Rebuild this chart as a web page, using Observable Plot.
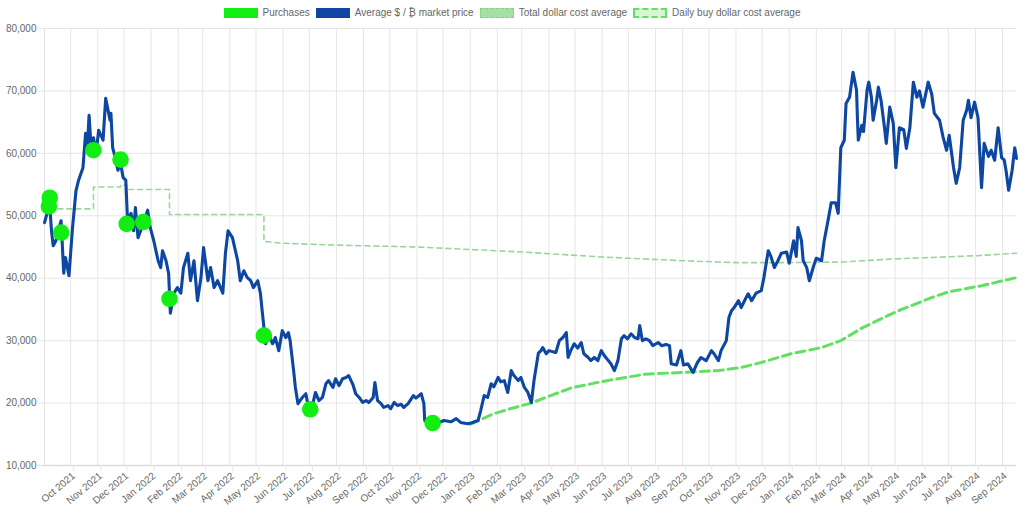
<!DOCTYPE html>
<html><head><meta charset="utf-8">
<script src="https://cdn.jsdelivr.net/npm/d3@7"></script>
<script src="https://cdn.jsdelivr.net/npm/@observablehq/plot@0.6"></script>
<style>
body{margin:0;background:#fff;font-family:"Liberation Sans",Arial,Helvetica,sans-serif;}
#legend{height:18px;display:flex;justify-content:center;align-items:flex-end;font-size:10px;color:#666;}
.item{display:flex;align-items:center;height:10px;line-height:10px;margin:0 3px;}
.box{width:34px;height:10px;margin-right:5px;box-sizing:border-box;}
</style></head><body>
<div id="legend"></div>
<div id="chart"></div>
<script>
// ---- Average $ / ₿ market price (blue line) ----
const priceDates = ["2021-09-01","2021-09-05","2021-09-07","2021-09-09","2021-09-11","2021-09-14","2021-09-16","2021-09-20","2021-09-23","2021-09-25","2021-09-29","2021-10-03","2021-10-07","2021-10-10","2021-10-15","2021-10-18","2021-10-20","2021-10-22","2021-10-24","2021-10-27","2021-10-30","2021-11-02","2021-11-07","2021-11-10","2021-11-12","2021-11-15","2021-11-16","2021-11-18","2021-11-21","2021-11-24","2021-11-27","2021-11-30","2021-12-03","2021-12-05","2021-12-09","2021-12-12","2021-12-14","2021-12-17","2021-12-20","2021-12-24","2021-12-28","2021-12-31","2022-01-04","2022-01-09","2022-01-12","2022-01-14","2022-01-18","2022-01-21","2022-01-23","2022-01-27","2022-01-31","2022-02-04","2022-02-07","2022-02-12","2022-02-15","2022-02-19","2022-02-23","2022-02-27","2022-03-02","2022-03-07","2022-03-10","2022-03-14","2022-03-18","2022-03-24","2022-03-27","2022-03-30","2022-04-04","2022-04-10","2022-04-13","2022-04-17","2022-04-21","2022-04-25","2022-04-28","2022-05-03","2022-05-06","2022-05-08","2022-05-10","2022-05-12","2022-05-15","2022-05-20","2022-05-23","2022-05-27","2022-05-31","2022-06-04","2022-06-07","2022-06-09","2022-06-13","2022-06-15","2022-06-18","2022-06-23","2022-06-27","2022-06-30","2022-07-05","2022-07-08","2022-07-12","2022-07-16","2022-07-20","2022-07-23","2022-07-28","2022-07-31","2022-08-04","2022-08-08","2022-08-12","2022-08-15","2022-08-20","2022-08-23","2022-08-27","2022-08-31","2022-09-04","2022-09-07","2022-09-12","2022-09-14","2022-09-17","2022-09-21","2022-09-24","2022-09-29","2022-10-02","2022-10-06","2022-10-10","2022-10-14","2022-10-17","2022-10-22","2022-10-28","2022-10-31","2022-11-06","2022-11-09","2022-11-10","2022-11-17","2022-11-25","2022-12-02","2022-12-10","2022-12-16","2022-12-21","2022-12-29","2023-01-02","2023-01-10","2023-01-13","2023-01-17","2023-01-21","2023-01-25","2023-01-28","2023-02-02","2023-02-05","2023-02-09","2023-02-13","2023-02-17","2023-02-20","2023-02-25","2023-02-28","2023-03-04","2023-03-08","2023-03-12","2023-03-15","2023-03-20","2023-03-23","2023-03-25","2023-03-29","2023-04-01","2023-04-06","2023-04-09","2023-04-13","2023-04-17","2023-04-21","2023-04-23","2023-04-26","2023-04-30","2023-05-04","2023-05-08","2023-05-11","2023-05-16","2023-05-19","2023-05-23","2023-05-27","2023-05-31","2023-06-03","2023-06-08","2023-06-11","2023-06-15","2023-06-19","2023-06-23","2023-06-26","2023-06-30","2023-07-04","2023-07-08","2023-07-12","2023-07-14","2023-07-17","2023-07-21","2023-07-25","2023-07-29","2023-08-04","2023-08-08","2023-08-13","2023-08-17","2023-08-19","2023-08-25","2023-08-30","2023-09-02","2023-09-07","2023-09-13","2023-09-18","2023-09-22","2023-09-28","2023-10-04","2023-10-07","2023-10-12","2023-10-15","2023-10-21","2023-10-24","2023-10-27","2023-10-30","2023-11-04","2023-11-07","2023-11-12","2023-11-15","2023-11-19","2023-11-24","2023-11-30","2023-12-03","2023-12-08","2023-12-11","2023-12-15","2023-12-19","2023-12-23","2023-12-29","2024-01-01","2024-01-06","2024-01-09","2024-01-11","2024-01-15","2024-01-17","2024-01-21","2024-01-24","2024-01-29","2024-02-01","2024-02-07","2024-02-10","2024-02-15","2024-02-18","2024-02-23","2024-02-26","2024-02-29","2024-03-04","2024-03-06","2024-03-10","2024-03-14","2024-03-18","2024-03-19","2024-03-20","2024-03-24","2024-03-26","2024-03-30","2024-04-01","2024-04-04","2024-04-06","2024-04-10","2024-04-12","2024-04-15","2024-04-19","2024-04-21","2024-04-25","2024-04-29","2024-05-02","2024-05-06","2024-05-11","2024-05-14","2024-05-18","2024-05-22","2024-05-26","2024-05-29","2024-06-02","2024-06-08","2024-06-12","2024-06-15","2024-06-21","2024-06-25","2024-06-29","2024-07-02","2024-07-07","2024-07-10","2024-07-14","2024-07-18","2024-07-22","2024-07-24","2024-07-27","2024-07-31","2024-08-04","2024-08-08","2024-08-11","2024-08-16","2024-08-19","2024-08-23","2024-08-27","2024-08-31","2024-09-03","2024-09-05","2024-09-08","2024-09-12","2024-09-15","2024-09-17"];
const priceValues = [48900,50900,51600,47600,45200,46000,47300,49200,40800,43300,40400,48000,54000,55700,57700,63200,60900,66100,61600,62500,60100,63700,62100,68800,67400,65300,66400,60900,59300,57300,58400,56100,55700,49200,50400,47600,51300,46500,47600,49200,50900,48100,46000,42800,41700,44400,42800,40800,34400,37600,38500,37600,41700,44000,39600,42800,36400,40100,44900,39600,41700,38500,39600,37600,44000,47600,46500,42800,39600,41200,40100,39600,38500,39600,37600,34800,32100,29500,31100,29500,30500,28400,31600,30500,31300,30000,25200,22500,19900,20900,21500,19300,19900,21700,20400,20900,23100,23600,22500,23900,22800,23900,24100,24400,22900,21500,20900,20100,20400,20100,20900,23300,20400,19900,19300,19600,19100,20100,19600,19800,19300,19900,21200,20800,21500,19900,17200,16700,16800,17200,17000,17500,16900,16700,16800,17200,18800,21200,20900,23100,22600,24100,23400,23600,21700,25200,24400,23600,24100,22500,21700,20100,23600,28000,28400,28900,27900,28400,28200,28100,30000,30500,31300,27300,28400,29500,28800,29700,27900,27300,26800,27300,26800,28400,27700,26800,26300,25200,26800,30300,30800,30300,31100,30500,30300,32400,30000,30300,30000,29200,29700,29200,29400,29200,26300,26100,28400,26100,26300,24900,26500,27300,26800,28400,27900,26800,28400,30000,33700,34800,35300,36400,35300,36700,37500,36400,37600,38000,40100,44400,43500,41700,42800,44000,44200,42400,46000,43500,48100,46000,42800,41700,39600,42000,43200,42800,46000,49700,52100,52100,50400,60900,62100,68000,69000,73000,70100,65700,62100,64500,63500,70100,71400,69000,65300,68500,70600,68500,64100,61600,67400,64800,57700,64100,63800,60800,64100,71400,69000,70000,67400,71400,69500,66400,65300,62600,60500,62900,57700,55200,57700,65300,66900,68500,65700,68200,65700,54500,61600,59500,60500,58900,64100,59300,58900,57300,54100,57300,60900,59200];

// ---- Purchases (green dots) ----
const purchaseDates = ["2021-09-06","2021-09-07","2021-09-20","2021-10-27","2021-11-27","2021-12-04","2021-12-23","2022-01-22","2022-05-10","2022-07-02","2022-11-19"];
const purchaseValues = [51500,52900,47300,60500,59000,48700,49000,36700,30800,19000,16800];

// ---- Total dollar cost average (thin dashed) ----
const totalDates = ["2021-09-06","2021-10-27","2021-10-27","2021-11-27","2021-11-27","2021-12-04","2021-12-04","2022-01-22","2022-01-22","2022-05-10","2022-05-10","2022-06-01","2022-08-01","2022-11-01","2023-01-01","2023-03-01","2023-06-01","2023-09-01","2023-11-01","2024-01-01","2024-03-01","2024-05-01","2024-08-01","2024-09-17"];
const totalValues = [51100,51100,54600,54600,54900,54900,54200,54200,50200,50200,45900,45600,45300,45000,44600,44200,43400,42800,42500,42500,42600,43100,43600,44000];

// ---- Daily buy dollar cost average (thick dashed) ----
const dailyDates = ["2023-01-01","2023-01-28","2023-02-16","2023-03-12","2023-04-03","2023-04-26","2023-05-23","2023-06-19","2023-07-19","2023-08-15","2023-09-14","2023-10-12","2023-11-07","2023-11-30","2024-01-03","2024-02-07","2024-02-29","2024-03-24","2024-04-15","2024-05-05","2024-06-12","2024-07-01","2024-08-08","2024-09-17"];
const dailyValues = [16600,18300,19100,20000,21200,22400,23200,23900,24600,24800,25000,25200,25700,26500,27900,28900,30000,32000,33500,34800,36900,37800,38800,40100];

// ---- Axis ticks ----
const yTicks = [10000,20000,30000,40000,50000,60000,70000,80000];
const xTickDates = ["2021-10-01","2021-11-01","2021-12-01","2022-01-01","2022-02-01","2022-03-01","2022-04-01","2022-05-01","2022-06-01","2022-07-01","2022-08-01","2022-09-01","2022-10-01","2022-11-01","2022-12-01","2023-01-01","2023-02-01","2023-03-01","2023-04-01","2023-05-01","2023-06-01","2023-07-01","2023-08-01","2023-09-01","2023-10-01","2023-11-01","2023-12-01","2024-01-01","2024-02-01","2024-03-01","2024-04-01","2024-05-01","2024-06-01","2024-07-01","2024-08-01","2024-09-01"];

const seriesNames = ["Purchases","Average $ / ₿ market price","Total dollar cost average","Daily buy dollar cost average"];
const colors = {purchase:"#12ee12", price:"#0d47a1", total:"#9ad69a", daily:"#62e062"};

const toRows = (ds, vs) => ds.map((d, i) => ({date: new Date(d), value: vs[i]}));
const price = toRows(priceDates, priceValues);
const purchases = toRows(purchaseDates, purchaseValues);
const total = toRows(totalDates, totalValues);
const daily = toRows(dailyDates, dailyValues);
const xTicks = xTickDates.map(d => new Date(d));
const x0 = new Date(priceDates[0]), x1 = new Date(priceDates[priceDates.length - 1]);

// Legend
const legendStyles = [
  `background:${colors.purchase};`,
  `background:${colors.price};`,
  `background:#a4e0a4;border:1.5px dashed #88d088;`,
  `background:#d8f6d2;border:2px dashed ${colors.daily};`
];
const legend = document.getElementById("legend");
seriesNames.forEach((n, i) => {
  const it = document.createElement("div"); it.className = "item";
  const b = document.createElement("div"); b.className = "box"; b.style.cssText = legendStyles[i];
  const t = document.createElement("span"); t.textContent = n;
  it.appendChild(b); it.appendChild(t); legend.appendChild(it);
});

const chart = Plot.plot({
  width: 1024,
  height: 503,
  marginTop: 10,
  marginBottom: 56,
  marginLeft: 44,
  marginRight: 8,
  style: {fontFamily: "'Liberation Sans', Arial, sans-serif", fontSize: "10px", color: "#666", background: "#fff"},
  x: {type: "utc", domain: [x0, x1]},
  y: {domain: [10000, 80000]},
  marks: [
    Plot.gridY(yTicks, {stroke: "#e6e6e6", strokeOpacity: 1}),
    Plot.gridX(xTicks, {stroke: "#e6e6e6", strokeOpacity: 1}),
    Plot.ruleX([x0], {stroke: "#e2e2e2"}),
    Plot.ruleY([10000], {stroke: "#dcdcdc", strokeWidth: 1.5}),
    Plot.axisY({ticks: yTicks, tickFormat: d3.format(","), tickSize: 6, tickPadding: 2, stroke: "#e6e6e6", fill: "#666", label: null}),
    Plot.axisX({ticks: xTicks, tickFormat: d3.utcFormat("%b %Y"), tickSize: 6, tickPadding: 3, tickRotate: -40, dx: 3, stroke: "#e6e6e6", fill: "#666", label: null}),
    Plot.line(daily, {x: "date", y: "value", stroke: colors.daily, strokeWidth: 3, strokeDasharray: "9,5"}),
    Plot.line(total, {x: "date", y: "value", stroke: colors.total, strokeWidth: 1.6, strokeDasharray: "5,4"}),
    Plot.line(price, {x: "date", y: "value", stroke: colors.price, strokeWidth: 3.1, strokeLinejoin: "round"}),
    Plot.dot(purchases, {x: "date", y: "value", r: 8.3, fill: colors.purchase, stroke: "none"})
  ]
});
document.getElementById("chart").appendChild(chart);
</script>
</body></html>
